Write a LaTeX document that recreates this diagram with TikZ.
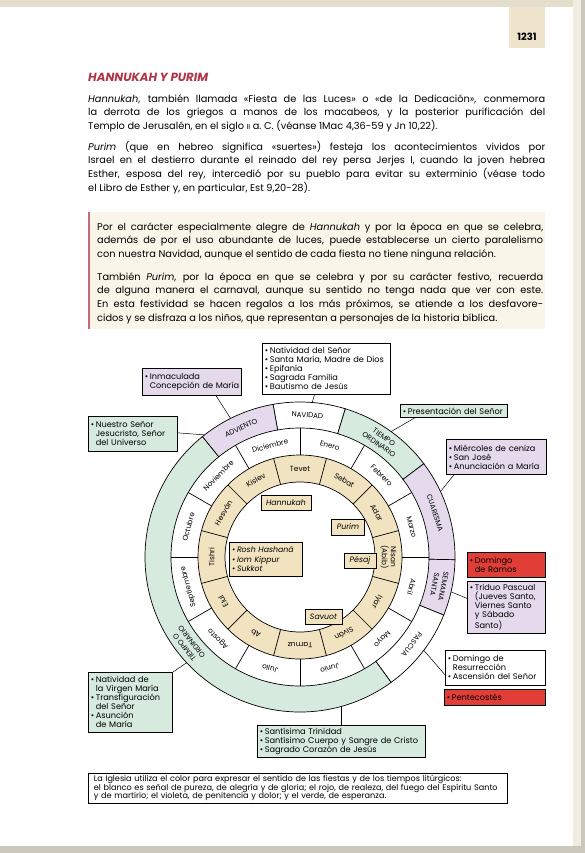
\documentclass[tikz,border=0pt]{standalone}
\usepackage{fontspec}
\setmainfont{Poppins}
\usepackage{tikz}
\definecolor{LitGreen}{RGB}{214,234,222}
\definecolor{LitViolet}{RGB}{228,218,236}
\definecolor{LitRed}{RGB}{226,62,56}
\definecolor{HebSand}{RGB}{241,227,192}
\definecolor{NoteBg}{RGB}{249,245,233}
\definecolor{NoteBar}{RGB}{196,108,118}
\definecolor{TitleRed}{RGB}{176,52,72}
\definecolor{TabSand}{RGB}{238,228,204}
\definecolor{EdgeTop}{RGB}{228,222,204}
\definecolor{EdgeSide}{RGB}{241,236,224}
\definecolor{EdgeGrey}{RGB}{204,199,188}
\newcommand{\fsz}[2]{\fontsize{#1}{#2}\selectfont}
\newcommand{\litbul}{\makebox[5pt][l]{\textbullet}}
\newcommand{\litind}{\hspace*{5pt}}
\hyphenpenalty=10000
\begin{document}
\begin{tikzpicture}[x=1pt, y=1pt,
          body/.style={anchor=north west, inner sep=0pt, align=justify,
                       font=\fsz{9.8}{13.7}},
          lbl/.style={draw=black, line width=0.7pt, anchor=north west,
                      inner xsep=2.5pt, inner ysep=2pt, align=left,
                      font=\fsz{8.2}{9}},
          fiesta/.style={draw=black, line width=0.7pt, fill=HebSand,
                         inner sep=2.5pt, align=left, font=\fsz{7.8}{9.2}\itshape},
          mes/.style={font=\fsz{7.2}{8}, inner sep=0pt},
          heb/.style={font=\fsz{7.4}{8.8}, inner sep=0pt, align=center},
          tiempo/.style={font=\fsz{7.2}{9}, inner sep=0pt, align=center},
          ring/.style={draw=black, line width=0.7pt},
          conn/.style={draw=black, line width=0.5pt}
        ]
        \useasboundingbox (0,0) rectangle (585,-853);

        % Page frame
        \fill[EdgeTop]  (0,0) rectangle (585,-7);
        \fill[EdgeSide] (573,0) rectangle (585,-853);
        \fill[EdgeGrey] (581,0) rectangle (585,-853);
        \fill[EdgeGrey] (0,-846) rectangle (585,-853);

        % Page number
        \node[fill=TabSand, minimum width=36pt, minimum height=41pt,
              inner sep=0pt, anchor=north] (tab) at (527,-7) {};
        \node[font=\bfseries\fsz{10}{11}] (pagnum) at (527,-37) {1231};

        % Title
        \node[anchor=base west, inner sep=0pt, text=TitleRed,
              font=\bfseries\itshape\fsz{11.8}{14}]
              (titulo) at (88,-82) {HANNUKAH Y PURIM};

        % Text
        \node[body, text width=457pt] (hannu) at (88,-92.5)
              {\strut\textit{Hannukah}, también llamada «Fiesta de las Luces» o «de la Dedicación», conmemora\linebreak
               la derrota de los griegos a manos de los macabeos, y la posterior purificación del\linebreak
               Templo de Jerusalén, en el siglo {\fsz{7.2}{8}II} a.~C. (véanse 1Mac 4,36-59 y Jn 10,22).};
        \node[body, text width=457pt] (purim) at (88,-140.5)
              {\strut\textit{Purim} (que en hebreo significa «suertes») festeja los acontecimientos vividos por\linebreak
               Israel en el destierro durante el reinado del rey persa Jerjes I, cuando la joven hebrea\linebreak
               Esther, esposa del rey, intercedió por su pueblo para evitar su exterminio (véase todo\linebreak
               el Libro de Esther y, en particular, Est 9,20-28).};

        % Note box
        \node[fill=NoteBg, minimum width=457pt, minimum height=117pt,
              inner sep=0pt, anchor=north west] (recuadro) at (88,-212) {};
        \draw[NoteBar, line width=1.5pt] ([xshift=0.75pt]recuadro.north west)
              -- ([xshift=0.75pt]recuadro.south west);
        \node[body, text width=446pt] (paralelo) at (97,-220.5)
              {\strut Por el carácter especialmente alegre de \textit{Hannukah} y por la época en que se celebra,\linebreak
               además de por el uso abundante de luces, puede establecerse un cierto paralelismo\linebreak
               con nuestra Navidad, aunque el sentido de cada fiesta no tiene ninguna relación.};
        \node[body, text width=446pt] (carnaval) at (97,-270.5)
              {\strut También \textit{Purim}, por la época en que se celebra y por su carácter festivo, recuerda\linebreak
               de alguna manera el carnaval, aunque su sentido no tenga nada que ver con este.\linebreak
               En esta festividad se hacen regalos a los más próximos, se atiende a los desfavore-\linebreak
               cidos y se disfraza a los niños, que representan a personajes de la historia bíblica.};

        % Calendar wheel
        \begin{scope}[shift={(300,-557)}]
          % Liturgical seasons
          \foreach \a/\b/\col in {100/73/white, 73/37/LitGreen, 37/-1/LitViolet,
                                  -1/-22/LitViolet, -22/-54/white,
                                  -54/-231/LitGreen, -231/-260/LitViolet}
            \filldraw[ring, fill=\col] (\a:155) arc[start angle=\a, end angle=\b, radius=155pt]
                  -- (\b:129) arc[start angle=\b, end angle=\a, radius=129pt] -- cycle;

          % Hebrew months and civil months
          \filldraw[ring, fill=HebSand] (0,0) circle[radius=102pt];
          \filldraw[ring, fill=white] (0,0) circle[radius=75pt];
          \foreach \a in {15,45,...,345}
            \draw[ring] (\a:75) -- (\a:102);
          \foreach \a in {0,30,...,330}
            \draw[ring] (\a:102) -- (\a:129);

          \foreach \m [count=\i] in {Enero,Febrero,Marzo,Abril,Mayo,Junio,Julio,
                                     Agosto,Septiembre,Octubre,Noviembre,Diciembre}{
            \pgfmathsetmacro{\ang}{105-30*\i}
            \node[mes, rotate=\ang-90] (mes\i) at (\ang:115.5) {\m};
          }
          \foreach \h [count=\i] in {Tevet,Sebat,Adar,{Nisan\\(Abib)},Iyar,Siván,
                                     Tamuz,Ab,Elul,Tishri,Hesván,Kislev}{
            \pgfmathsetmacro{\ang}{120-30*\i}
            \node[heb, rotate=\ang-90] (heb\i) at (\ang:88.5) {\h};
          }

          % Season names
          \node[tiempo, rotate=-3]     (navid)  at (87:142)    {NAVIDAD};
          \node[tiempo, rotate=-35]    (tord)   at (55:142)    {TIEMPO\\ORDINARIO};
          \node[tiempo, rotate=-72]    (cuar)   at (18:142)    {CUARESMA};
          \node[tiempo, rotate=-101.5] (ssanta) at (-11.5:142) {SEMANA\\SANTA};
          \node[tiempo, rotate=-128]   (pascua) at (-38:142)   {PASCUA};
          \node[tiempo, rotate=128]    (tordb)  at (-142:142)  {TIEMPO O\\ORDINARIO};
          \node[tiempo, rotate=24.5]   (advi)   at (114.5:142) {ADVIENTO};

          % Connector ends on the wheel
          \coordinate (p-nat)  at (85.5:155);
          \coordinate (p-inm)  at (116.6:155);
          \coordinate (p-univ) at (128:155);
          \coordinate (p-pres) at (54:155);
          \coordinate (p-mier) at (25:155);
          \coordinate (p-tri)  at (-13:155);
          \coordinate (p-res)  at (-37:155);
          \coordinate (p-sant) at (-74.3:155);
          \coordinate (p-vir)  at (-137:155);
        \end{scope}

        % Jewish feasts
        \node[fiesta, minimum width=50pt, minimum height=15pt] (hannukah) at (286,-502.5) {Hannukah};
        \node[fiesta, minimum width=33pt, minimum height=16pt] (purimf)   at (348,-527)   {Purim};
        \node[fiesta, text width=68pt, minimum height=34pt]    (rosh)     at (266,-559)
              {\litbul Rosh Hashaná\\\litbul Iom Kippur\\\litbul Sukkot};
        \node[fiesta, minimum width=32pt, minimum height=15pt] (pesaj)    at (360,-560.5) {Pésaj};
        \node[fiesta, minimum width=37pt, minimum height=15pt] (savuot)   at (323.5,-616.5) {Savuot};

        % Christian feasts
        \node[lbl, fill=white, text width=123.3pt, minimum height=51pt] (natbox) at (262,-343)
              {\litbul Natividad del Señor\\\litbul Santa María, Madre de Dios\\\litbul Epifanía\\
               \litbul Sagrada Familia\\\litbul Bautismo de Jesús};
        \node[lbl, fill=LitViolet, text width=94.3pt, minimum height=27pt] (inmbox) at (142,-368)
              {\litbul Inmaculada\\\litind Concepción de María};
        \node[lbl, fill=LitGreen, text width=84.3pt, minimum height=35pt] (univbox) at (88,-416)
              {\litbul Nuestro Señor\\\litind Jesucristo, Señor\\\litind del Universo};
        \node[lbl, fill=LitGreen, text width=102.3pt, minimum height=13pt] (presbox) at (400,-404)
              {\litbul Presentación del Señor};
        \node[lbl, fill=LitViolet, text width=95.3pt, minimum height=35pt] (mierbox) at (446,-439)
              {\litbul Miércoles de ceniza\\\litbul San José\\\litbul Anunciación a María};
        \node[lbl, fill=LitRed, text width=73.3pt, minimum height=25pt] (ramosbox) at (467,-552)
              {\litbul Domingo\\\litind de Ramos};
        \node[lbl, fill=LitViolet, text width=73.3pt, minimum height=52pt] (tribox) at (467,-581)
              {\litbul Triduo Pascual\\\litind (Jueves Santo,\\\litind Viernes Santo\\
               \litind y Sábado\\\litind Santo)};
        \node[lbl, fill=white, text width=95.3pt, minimum height=35pt] (resbox) at (445,-650)
              {\litbul Domingo de\\\litind Resurrección\\\litbul Ascensión del Señor};
        \node[lbl, fill=LitRed, text width=96.3pt, minimum height=16pt] (pentbox) at (444,-689)
              {\litbul Pentecostés};
        \node[lbl, fill=LitGreen, text width=163.3pt, minimum height=32pt] (santbox) at (257,-725)
              {\litbul Santísima Trinidad\\\litbul Santísimo Cuerpo y Sangre de Cristo\\
               \litbul Sagrado Corazón de Jesús};
        \node[lbl, fill=LitGreen, text width=79.3pt, minimum height=60pt] (virbox) at (88,-672)
              {\litbul Natividad de\\\litind la Virgen María\\\litbul Transfiguración\\
               \litind del Señor\\\litbul Asunción\\\litind de María};

        \draw[conn] ([xshift=-12pt]natbox.south) -- (p-nat);
        \draw[conn] ([xshift=24pt]inmbox.south)  -- (p-inm);
        \draw[conn] ([yshift=1pt]univbox.east)   -- (p-univ);
        \draw[conn] ([xshift=15pt]presbox.south west) -- (p-pres);
        \draw[conn] ([xshift=8pt]mierbox.south west)  -- (p-mier);
        \draw[conn] ([yshift=9pt]tribox.west)    -- (p-tri);
        \draw[conn] ([yshift=-7pt]resbox.west)   -- (p-res);
        \draw[conn] (santbox.north) -- (santbox.north |- p-sant);
        \draw[conn] (virbox.north east) -- (p-vir);

        % Colour note
        \node[lbl, fill=white, inner xsep=5.5pt, text width=408.3pt, minimum height=29pt,
              font=\fsz{8.1}{8.6}] (nota) at (88,-773)
              {La Iglesia utiliza el color para expresar el sentido de las fiestas y de los tiempos litúrgicos:\\
               el blanco es señal de pureza, de alegría y de gloria; el rojo, de realeza, del fuego del Espíritu Santo\\
               y de martirio; el violeta, de penitencia y dolor; y el verde, de esperanza.};
      \end{tikzpicture}
\end{document}
